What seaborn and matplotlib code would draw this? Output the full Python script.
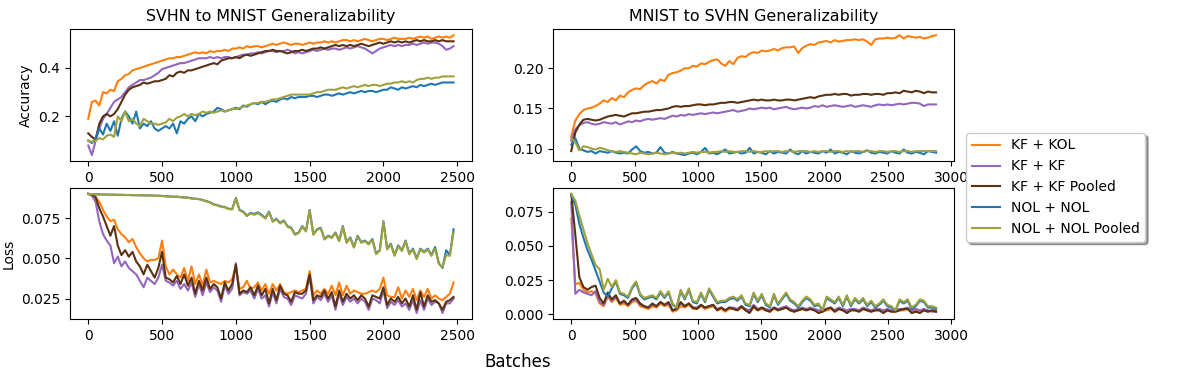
import numpy as np
import pandas as pd
import matplotlib
matplotlib.use("Agg")
import matplotlib.pyplot as plt
import seaborn as sns

MODELS = ["KF + KOL", "KF + KF", "KF + KF Pooled", "NOL + NOL", "NOL + NOL Pooled"]
COLORS = ["#ff7f0e", "#9467bd", "#5a3210", "#1f77b4", "#9fa23c"]

STEP_SVHN = 25   # batches between logged points, SVHN -> MNIST
STEP_MNIST = 32  # batches between logged points, MNIST -> SVHN

# --- SVHN to MNIST accuracy ---
acc_s2m_kf_kol = [
    0.19, 0.26, 0.265, 0.245, 0.30, 0.295, 0.31, 0.305, 0.345, 0.355,
    0.37, 0.375, 0.39, 0.395, 0.40, 0.405, 0.41, 0.415, 0.42, 0.425,
    0.43, 0.435, 0.44, 0.44, 0.445, 0.445, 0.45, 0.455, 0.46, 0.465,
    0.46, 0.465, 0.46, 0.47, 0.465, 0.47, 0.47, 0.475, 0.47, 0.48,
    0.48, 0.485, 0.48, 0.49, 0.485, 0.49, 0.49, 0.485, 0.49, 0.495,
    0.50, 0.495, 0.50, 0.505, 0.50, 0.495, 0.50, 0.50, 0.495, 0.50,
    0.505, 0.50, 0.505, 0.505, 0.51, 0.505, 0.51, 0.505, 0.51, 0.515,
    0.515, 0.51, 0.515, 0.51, 0.515, 0.52, 0.515, 0.51, 0.515, 0.52,
    0.52, 0.515, 0.52, 0.525, 0.52, 0.52, 0.52, 0.525, 0.52, 0.525,
    0.53, 0.525, 0.53, 0.52, 0.525, 0.53, 0.525, 0.53, 0.525, 0.535]
acc_s2m_kf_kf = [
    0.08, 0.04, 0.10, 0.15, 0.19, 0.21, 0.235, 0.26, 0.27, 0.28,
    0.30, 0.32, 0.33, 0.34, 0.35, 0.35, 0.355, 0.36, 0.37, 0.38,
    0.395, 0.40, 0.405, 0.41, 0.415, 0.42, 0.42, 0.425, 0.43, 0.435,
    0.44, 0.44, 0.44, 0.445, 0.44, 0.445, 0.44, 0.445, 0.445, 0.44,
    0.445, 0.45, 0.455, 0.455, 0.46, 0.46, 0.465, 0.46, 0.465, 0.47,
    0.47, 0.465, 0.47, 0.47, 0.475, 0.47, 0.46, 0.465, 0.46, 0.465,
    0.47, 0.475, 0.47, 0.475, 0.48, 0.475, 0.48, 0.48, 0.475, 0.48,
    0.485, 0.48, 0.485, 0.49, 0.485, 0.48, 0.47, 0.46, 0.47, 0.48,
    0.485, 0.49, 0.495, 0.49, 0.495, 0.49, 0.495, 0.495, 0.50, 0.495,
    0.50, 0.505, 0.50, 0.505, 0.505, 0.50, 0.49, 0.475, 0.48, 0.49]
acc_s2m_kf_kf_pooled = [
    0.13, 0.115, 0.105, 0.17, 0.20, 0.21, 0.20, 0.21, 0.23, 0.26,
    0.29, 0.31, 0.32, 0.325, 0.33, 0.34, 0.335, 0.34, 0.345, 0.345,
    0.35, 0.355, 0.37, 0.365, 0.38, 0.385, 0.38, 0.39, 0.39, 0.395,
    0.40, 0.405, 0.41, 0.415, 0.42, 0.415, 0.43, 0.435, 0.44, 0.44,
    0.445, 0.44, 0.45, 0.455, 0.45, 0.455, 0.46, 0.465, 0.47, 0.47,
    0.475, 0.47, 0.47, 0.465, 0.46, 0.465, 0.47, 0.47, 0.475, 0.47,
    0.475, 0.48, 0.48, 0.485, 0.48, 0.485, 0.49, 0.495, 0.49, 0.495,
    0.49, 0.495, 0.49, 0.495, 0.50, 0.495, 0.49, 0.495, 0.50, 0.505,
    0.50, 0.505, 0.51, 0.505, 0.51, 0.505, 0.51, 0.505, 0.51, 0.515,
    0.51, 0.515, 0.51, 0.51, 0.515, 0.51, 0.515, 0.51, 0.51, 0.51]
acc_s2m_nol_nol = [
    0.10, 0.09, 0.11, 0.15, 0.125, 0.17, 0.14, 0.18, 0.12, 0.19,
    0.22, 0.20, 0.17, 0.22, 0.15, 0.17, 0.16, 0.18, 0.15, 0.14,
    0.15, 0.16, 0.15, 0.17, 0.13, 0.18, 0.17, 0.19, 0.20, 0.18,
    0.21, 0.20, 0.21, 0.215, 0.22, 0.235, 0.23, 0.22, 0.225, 0.23,
    0.235, 0.23, 0.245, 0.24, 0.25, 0.255, 0.25, 0.26, 0.25, 0.26,
    0.265, 0.26, 0.27, 0.275, 0.27, 0.28, 0.275, 0.28, 0.28, 0.28,
    0.285, 0.285, 0.28, 0.285, 0.29, 0.29, 0.285, 0.29, 0.295, 0.29,
    0.295, 0.30, 0.295, 0.30, 0.305, 0.30, 0.305, 0.305, 0.30, 0.305,
    0.31, 0.31, 0.32, 0.315, 0.31, 0.32, 0.315, 0.32, 0.325, 0.32,
    0.33, 0.325, 0.33, 0.335, 0.33, 0.335, 0.34, 0.34, 0.34, 0.34]
acc_s2m_nol_nol_pooled = [
    0.10, 0.095, 0.10, 0.11, 0.105, 0.12, 0.125, 0.115, 0.20, 0.18,
    0.22, 0.18, 0.19, 0.17, 0.16, 0.19, 0.18, 0.17, 0.17, 0.165,
    0.17, 0.175, 0.19, 0.18, 0.195, 0.20, 0.21, 0.20, 0.21, 0.205,
    0.21, 0.22, 0.215, 0.22, 0.215, 0.22, 0.225, 0.22, 0.225, 0.23,
    0.23, 0.235, 0.24, 0.245, 0.25, 0.255, 0.255, 0.26, 0.26, 0.265,
    0.27, 0.27, 0.275, 0.28, 0.285, 0.29, 0.29, 0.29, 0.29, 0.29,
    0.29, 0.295, 0.30, 0.30, 0.305, 0.31, 0.31, 0.31, 0.315, 0.32,
    0.315, 0.32, 0.325, 0.32, 0.325, 0.33, 0.325, 0.33, 0.33, 0.325,
    0.33, 0.335, 0.335, 0.34, 0.34, 0.345, 0.34, 0.345, 0.34, 0.35,
    0.355, 0.355, 0.36, 0.355, 0.36, 0.36, 0.365, 0.365, 0.365, 0.365]

# --- SVHN to MNIST loss ---
loss_s2m_kf_kol = [
    0.090, 0.089, 0.088, 0.085, 0.080, 0.076, 0.073, 0.074, 0.068, 0.065,
    0.063, 0.060, 0.062, 0.057, 0.053, 0.050, 0.048, 0.049, 0.049, 0.050,
    0.061, 0.045, 0.040, 0.043, 0.040, 0.038, 0.044, 0.036, 0.045, 0.034,
    0.040, 0.033, 0.043, 0.035, 0.036, 0.035, 0.034, 0.036, 0.035, 0.037,
    0.045, 0.031, 0.032, 0.036, 0.031, 0.032, 0.035, 0.030, 0.034, 0.028,
    0.034, 0.030, 0.034, 0.029, 0.028, 0.029, 0.030, 0.029, 0.030, 0.031,
    0.042, 0.027, 0.030, 0.028, 0.031, 0.028, 0.033, 0.027, 0.035, 0.027,
    0.033, 0.028, 0.030, 0.029, 0.028, 0.028, 0.029, 0.030, 0.029, 0.031,
    0.038, 0.027, 0.026, 0.026, 0.032, 0.025, 0.030, 0.026, 0.031, 0.024,
    0.030, 0.026, 0.031, 0.025, 0.027, 0.025, 0.024, 0.026, 0.028, 0.035]
loss_s2m_kf_kf = [
    0.090, 0.089, 0.085, 0.073, 0.065, 0.061, 0.058, 0.047, 0.051, 0.045,
    0.048, 0.044, 0.042, 0.040, 0.036, 0.032, 0.038, 0.036, 0.034, 0.038,
    0.046, 0.036, 0.035, 0.033, 0.036, 0.031, 0.034, 0.030, 0.035, 0.026,
    0.034, 0.027, 0.035, 0.029, 0.032, 0.030, 0.023, 0.033, 0.028, 0.031,
    0.047, 0.027, 0.029, 0.028, 0.030, 0.025, 0.031, 0.025, 0.027, 0.020,
    0.029, 0.022, 0.031, 0.026, 0.025, 0.021, 0.027, 0.026, 0.025, 0.028,
    0.039, 0.022, 0.026, 0.024, 0.028, 0.023, 0.027, 0.018, 0.028, 0.021,
    0.026, 0.023, 0.025, 0.022, 0.025, 0.023, 0.018, 0.025, 0.024, 0.022,
    0.030, 0.019, 0.023, 0.021, 0.024, 0.020, 0.022, 0.018, 0.024, 0.016,
    0.024, 0.018, 0.025, 0.021, 0.023, 0.022, 0.016, 0.022, 0.022, 0.025]
loss_s2m_kf_kf_pooled = [
    0.090, 0.0895, 0.088, 0.081, 0.076, 0.070, 0.064, 0.070, 0.058, 0.052,
    0.055, 0.051, 0.054, 0.048, 0.045, 0.040, 0.046, 0.042, 0.038, 0.044,
    0.054, 0.038, 0.037, 0.035, 0.039, 0.034, 0.040, 0.033, 0.038, 0.028,
    0.036, 0.030, 0.038, 0.031, 0.034, 0.032, 0.025, 0.035, 0.030, 0.034,
    0.046, 0.028, 0.030, 0.029, 0.032, 0.027, 0.033, 0.027, 0.031, 0.022,
    0.031, 0.024, 0.033, 0.028, 0.027, 0.023, 0.029, 0.028, 0.028, 0.030,
    0.040, 0.024, 0.027, 0.026, 0.030, 0.025, 0.029, 0.020, 0.030, 0.023,
    0.028, 0.025, 0.027, 0.024, 0.027, 0.025, 0.020, 0.027, 0.026, 0.025,
    0.032, 0.021, 0.025, 0.023, 0.026, 0.022, 0.025, 0.020, 0.027, 0.018,
    0.029, 0.020, 0.027, 0.023, 0.024, 0.022, 0.018, 0.023, 0.024, 0.026]
loss_s2m_nol_nol = [
    0.0900, 0.0898, 0.0897, 0.0897, 0.0896, 0.0896, 0.0895, 0.0895, 0.0894, 0.0894,
    0.0893, 0.0893, 0.0892, 0.0892, 0.0891, 0.0891, 0.0890, 0.0890, 0.0889, 0.0888,
    0.0887, 0.0885, 0.0884, 0.0882, 0.0883, 0.0880, 0.0878, 0.0877, 0.0872, 0.0870,
    0.0868, 0.0862, 0.0855, 0.0848, 0.0835, 0.0830, 0.0822, 0.0818, 0.0808, 0.0805,
    0.0875, 0.0800, 0.0790, 0.0765, 0.0782, 0.0775, 0.0785, 0.0770, 0.0750, 0.0790,
    0.0730, 0.0745, 0.0720, 0.0735, 0.0700, 0.0690, 0.0650, 0.0660, 0.0700, 0.0670,
    0.0800, 0.0650, 0.0680, 0.0690, 0.0620, 0.0640, 0.0630, 0.0660, 0.0610, 0.0700,
    0.0600, 0.0630, 0.0570, 0.0640, 0.0600, 0.0610, 0.0590, 0.0620, 0.0530, 0.0550,
    0.0730, 0.0560, 0.0590, 0.0520, 0.0580, 0.0550, 0.0610, 0.0530, 0.0560, 0.0500,
    0.0560, 0.0540, 0.0560, 0.0520, 0.0570, 0.0470, 0.0440, 0.0550, 0.0520, 0.0680]
loss_s2m_nol_nol_pooled = [
    0.0900, 0.0898, 0.0897, 0.0897, 0.0896, 0.0896, 0.0895, 0.0895, 0.0894, 0.0894,
    0.0893, 0.0893, 0.0892, 0.0892, 0.0891, 0.0891, 0.0890, 0.0890, 0.0889, 0.0888,
    0.0887, 0.0885, 0.0884, 0.0882, 0.0882, 0.0879, 0.0877, 0.0876, 0.0871, 0.0869,
    0.0867, 0.0861, 0.0853, 0.0846, 0.0833, 0.0828, 0.0820, 0.0816, 0.0806, 0.0803,
    0.0872, 0.0797, 0.0787, 0.0762, 0.0779, 0.0770, 0.0780, 0.0765, 0.0746, 0.0786,
    0.0727, 0.0741, 0.0716, 0.0731, 0.0696, 0.0686, 0.0646, 0.0656, 0.0696, 0.0666,
    0.0797, 0.0646, 0.0676, 0.0686, 0.0616, 0.0636, 0.0626, 0.0656, 0.0606, 0.0696,
    0.0596, 0.0626, 0.0566, 0.0636, 0.0596, 0.0606, 0.0586, 0.0616, 0.0526, 0.0546,
    0.0726, 0.0555, 0.0585, 0.0515, 0.0575, 0.0545, 0.0605, 0.0525, 0.0555, 0.0495,
    0.0555, 0.0535, 0.0555, 0.0515, 0.0560, 0.0465, 0.0445, 0.0520, 0.0515, 0.0660]

# --- MNIST to SVHN accuracy ---
acc_m2s_kf_kol = [
    0.115, 0.135, 0.143, 0.148, 0.150, 0.151, 0.153, 0.156, 0.160, 0.158,
    0.163, 0.160, 0.166, 0.164, 0.170, 0.173, 0.175, 0.174, 0.179, 0.182,
    0.184, 0.181, 0.186, 0.184, 0.192, 0.194, 0.195, 0.197, 0.200, 0.200,
    0.203, 0.202, 0.206, 0.205, 0.208, 0.210, 0.211, 0.206, 0.203, 0.209,
    0.205, 0.213, 0.215, 0.214, 0.218, 0.220, 0.219, 0.222, 0.221, 0.222,
    0.224, 0.222, 0.225, 0.226, 0.226, 0.227, 0.219, 0.225, 0.228, 0.230,
    0.229, 0.232, 0.233, 0.234, 0.232, 0.235, 0.233, 0.234, 0.235, 0.235,
    0.236, 0.235, 0.236, 0.233, 0.229, 0.236, 0.237, 0.237, 0.238, 0.237,
    0.238, 0.241, 0.237, 0.240, 0.239, 0.238, 0.239, 0.237, 0.238, 0.240, 0.241]
acc_m2s_kf_kf = [
    0.110, 0.124, 0.129, 0.132, 0.133, 0.131, 0.130, 0.131, 0.133, 0.132,
    0.131, 0.133, 0.130, 0.132, 0.134, 0.133, 0.135, 0.134, 0.136, 0.137,
    0.136, 0.137, 0.138, 0.137, 0.139, 0.141, 0.140, 0.142, 0.141, 0.143,
    0.142, 0.143, 0.144, 0.143, 0.144, 0.145, 0.144, 0.145, 0.146, 0.147,
    0.148, 0.146, 0.147, 0.148, 0.150, 0.149, 0.150, 0.151, 0.150, 0.151,
    0.149, 0.150, 0.151, 0.152, 0.150, 0.149, 0.150, 0.151, 0.150, 0.151,
    0.153, 0.152, 0.154, 0.152, 0.153, 0.154, 0.153, 0.152, 0.153, 0.154,
    0.152, 0.153, 0.154, 0.153, 0.152, 0.154, 0.155, 0.154, 0.155, 0.154,
    0.155, 0.156, 0.155, 0.156, 0.157, 0.157, 0.156, 0.153, 0.155, 0.155, 0.155]
acc_m2s_kf_kf_pooled = [
    0.097, 0.120, 0.130, 0.136, 0.137, 0.136, 0.135, 0.136, 0.138, 0.140,
    0.141, 0.142, 0.141, 0.140, 0.142, 0.144, 0.144, 0.145, 0.146, 0.146,
    0.147, 0.148, 0.148, 0.149, 0.150, 0.152, 0.153, 0.152, 0.153, 0.153,
    0.154, 0.155, 0.155, 0.154, 0.155, 0.155, 0.156, 0.157, 0.157, 0.158,
    0.158, 0.157, 0.158, 0.159, 0.160, 0.161, 0.160, 0.161, 0.160, 0.160,
    0.161, 0.160, 0.160, 0.161, 0.161, 0.160, 0.161, 0.162, 0.163, 0.164,
    0.163, 0.165, 0.166, 0.167, 0.167, 0.168, 0.167, 0.168, 0.168, 0.166,
    0.167, 0.167, 0.168, 0.168, 0.167, 0.168, 0.168, 0.167, 0.169, 0.169,
    0.170, 0.169, 0.172, 0.171, 0.170, 0.172, 0.171, 0.169, 0.171, 0.170, 0.170]
acc_m2s_nol_nol = [
    0.105, 0.113, 0.100, 0.098, 0.096, 0.097, 0.094, 0.097, 0.096, 0.095,
    0.097, 0.095, 0.094, 0.095, 0.094, 0.099, 0.103, 0.097, 0.095, 0.096,
    0.094, 0.095, 0.102, 0.095, 0.094, 0.096, 0.094, 0.093, 0.092, 0.094,
    0.095, 0.093, 0.096, 0.101, 0.094, 0.095, 0.093, 0.096, 0.099, 0.094,
    0.095, 0.096, 0.094, 0.095, 0.101, 0.094, 0.096, 0.095, 0.093, 0.097,
    0.094, 0.096, 0.095, 0.094, 0.099, 0.095, 0.093, 0.097, 0.094, 0.096,
    0.095, 0.094, 0.097, 0.095, 0.099, 0.094, 0.096, 0.095, 0.093, 0.097,
    0.095, 0.094, 0.096, 0.098, 0.095, 0.094, 0.096, 0.095, 0.094, 0.097,
    0.095, 0.094, 0.099, 0.095, 0.094, 0.096, 0.095, 0.093, 0.097, 0.096, 0.095]
acc_m2s_nol_nol_pooled = [
    0.113, 0.108, 0.098, 0.103, 0.102, 0.100, 0.099, 0.101, 0.100, 0.098,
    0.097, 0.096, 0.097, 0.096, 0.095, 0.094, 0.093, 0.095, 0.094, 0.093,
    0.094, 0.095, 0.094, 0.093, 0.094, 0.095, 0.094, 0.095, 0.094, 0.095,
    0.096, 0.095, 0.096, 0.096, 0.095, 0.096, 0.096, 0.097, 0.096, 0.097,
    0.096, 0.096, 0.097, 0.097, 0.096, 0.097, 0.096, 0.096, 0.097, 0.096,
    0.097, 0.097, 0.096, 0.097, 0.097, 0.096, 0.097, 0.097, 0.097, 0.096,
    0.097, 0.096, 0.097, 0.097, 0.096, 0.097, 0.097, 0.096, 0.097, 0.096,
    0.097, 0.097, 0.096, 0.097, 0.097, 0.096, 0.097, 0.097, 0.096, 0.097,
    0.097, 0.096, 0.097, 0.097, 0.096, 0.097, 0.097, 0.097, 0.097, 0.097, 0.097]

# --- MNIST to SVHN loss ---
loss_m2s_kf_kol = [
    0.070, 0.022, 0.023, 0.018, 0.016, 0.017, 0.015, 0.008, 0.006, 0.013,
    0.009, 0.012, 0.007, 0.008, 0.006, 0.009, 0.010, 0.006, 0.005, 0.004,
    0.006, 0.005, 0.008, 0.006, 0.007, 0.002, 0.003, 0.006, 0.005, 0.007,
    0.004, 0.004, 0.006, 0.004, 0.005, 0.006, 0.003, 0.004, 0.002, 0.004,
    0.004, 0.003, 0.005, 0.003, 0.002, 0.005, 0.003, 0.004, 0.003, 0.002,
    0.004, 0.003, 0.004, 0.005, 0.003, 0.002, 0.003, 0.004, 0.003, 0.004,
    0.003, 0.002, 0.002, 0.003, 0.004, 0.002, 0.004, 0.003, 0.002, 0.003,
    0.003, 0.002, 0.004, 0.003, 0.002, 0.003, 0.003, 0.002, 0.003, 0.002,
    0.002, 0.003, 0.003, 0.004, 0.002, 0.003, 0.002, 0.003, 0.002, 0.003, 0.003]
loss_m2s_kf_kf = [
    0.082, 0.015, 0.018, 0.016, 0.015, 0.014, 0.017, 0.009, 0.007, 0.014,
    0.010, 0.013, 0.008, 0.009, 0.007, 0.010, 0.011, 0.007, 0.006, 0.005,
    0.007, 0.006, 0.009, 0.007, 0.008, 0.003, 0.004, 0.008, 0.006, 0.008,
    0.005, 0.005, 0.007, 0.005, 0.006, 0.007, 0.004, 0.005, 0.003, 0.005,
    0.005, 0.004, 0.006, 0.004, 0.003, 0.007, 0.004, 0.005, 0.004, 0.003,
    0.005, 0.004, 0.005, 0.006, 0.004, 0.003, 0.004, 0.005, 0.004, 0.005,
    0.004, 0.003, 0.003, 0.004, 0.005, 0.003, 0.005, 0.004, 0.003, 0.004,
    0.004, 0.003, 0.005, 0.004, 0.003, 0.004, 0.004, 0.003, 0.004, 0.003,
    0.003, 0.004, 0.004, 0.005, 0.003, 0.004, 0.003, 0.004, 0.003, 0.002, 0.002]
loss_m2s_kf_kf_pooled = [
    0.088, 0.058, 0.027, 0.020, 0.018, 0.020, 0.021, 0.012, 0.008, 0.016,
    0.011, 0.014, 0.008, 0.010, 0.007, 0.011, 0.012, 0.008, 0.006, 0.005,
    0.008, 0.006, 0.009, 0.007, 0.009, 0.003, 0.004, 0.009, 0.006, 0.008,
    0.005, 0.004, 0.007, 0.005, 0.006, 0.007, 0.003, 0.005, 0.003, 0.005,
    0.004, 0.003, 0.006, 0.003, 0.001, 0.006, 0.003, 0.005, 0.003, 0.002,
    0.005, 0.003, 0.004, 0.005, 0.003, 0.002, 0.003, 0.004, 0.003, 0.004,
    0.003, 0.001, 0.002, 0.004, 0.005, 0.002, 0.004, 0.003, 0.001, 0.003,
    0.003, 0.002, 0.004, 0.003, 0.002, 0.003, 0.003, 0.001, 0.003, 0.002,
    0.002, 0.003, 0.004, 0.004, 0.001, 0.002, 0.001, 0.003, 0.002, 0.003, 0.002]
loss_m2s_nol_nol = [
    0.087, 0.080, 0.066, 0.056, 0.047, 0.040, 0.032, 0.024, 0.016, 0.013,
    0.019, 0.024, 0.015, 0.014, 0.012, 0.019, 0.023, 0.014, 0.011, 0.012,
    0.013, 0.011, 0.016, 0.012, 0.016, 0.007, 0.005, 0.017, 0.011, 0.018,
    0.009, 0.008, 0.015, 0.009, 0.018, 0.013, 0.008, 0.009, 0.009, 0.011,
    0.012, 0.010, 0.013, 0.007, 0.006, 0.015, 0.009, 0.014, 0.007, 0.005,
    0.014, 0.007, 0.011, 0.015, 0.010, 0.008, 0.005, 0.009, 0.012, 0.010,
    0.006, 0.007, 0.003, 0.012, 0.010, 0.008, 0.012, 0.006, 0.013, 0.006,
    0.011, 0.008, 0.011, 0.006, 0.009, 0.005, 0.007, 0.010, 0.006, 0.005,
    0.003, 0.010, 0.008, 0.010, 0.004, 0.006, 0.010, 0.009, 0.005, 0.005, 0.004]
loss_m2s_nol_nol_pooled = [
    0.088, 0.083, 0.072, 0.062, 0.052, 0.044, 0.036, 0.033, 0.018, 0.026,
    0.020, 0.025, 0.016, 0.015, 0.013, 0.020, 0.024, 0.015, 0.012, 0.013,
    0.014, 0.012, 0.017, 0.013, 0.017, 0.008, 0.005, 0.018, 0.012, 0.019,
    0.010, 0.009, 0.016, 0.010, 0.019, 0.014, 0.009, 0.010, 0.010, 0.012,
    0.013, 0.011, 0.014, 0.008, 0.007, 0.016, 0.010, 0.015, 0.008, 0.006,
    0.015, 0.008, 0.012, 0.016, 0.011, 0.009, 0.006, 0.010, 0.013, 0.011,
    0.007, 0.008, 0.003, 0.013, 0.011, 0.009, 0.013, 0.007, 0.014, 0.007,
    0.012, 0.009, 0.012, 0.007, 0.010, 0.006, 0.008, 0.011, 0.007, 0.006,
    0.003, 0.011, 0.009, 0.011, 0.005, 0.007, 0.011, 0.010, 0.006, 0.006, 0.005]


def long_frame(series, step):
    rows = []
    for model, vals in zip(MODELS, series):
        for i, v in enumerate(vals):
            rows.append((i * step, v, model))
    return pd.DataFrame(rows, columns=["Batches", "value", "Model"])


panels = [
    (long_frame([acc_s2m_kf_kol, acc_s2m_kf_kf, acc_s2m_kf_kf_pooled,
                 acc_s2m_nol_nol, acc_s2m_nol_nol_pooled], STEP_SVHN),
     "SVHN to MNIST Generalizability", "Accuracy"),
    (long_frame([acc_m2s_kf_kol, acc_m2s_kf_kf, acc_m2s_kf_kf_pooled,
                 acc_m2s_nol_nol, acc_m2s_nol_nol_pooled], STEP_MNIST),
     "MNIST to SVHN Generalizability", ""),
    (long_frame([loss_s2m_kf_kol, loss_s2m_kf_kf, loss_s2m_kf_kf_pooled,
                 loss_s2m_nol_nol, loss_s2m_nol_nol_pooled], STEP_SVHN),
     "", "Loss"),
    (long_frame([loss_m2s_kf_kol, loss_m2s_kf_kf, loss_m2s_kf_kf_pooled,
                 loss_m2s_nol_nol, loss_m2s_nol_nol_pooled], STEP_MNIST),
     "", ""),
]

fig = plt.figure(figsize=(11.96, 3.8), dpi=100)
rects = [
    [0.0585, 0.576, 0.336, 0.347],
    [0.4624, 0.576, 0.3355, 0.347],
    [0.0585, 0.1605, 0.336, 0.345],
    [0.4624, 0.1605, 0.3355, 0.345],
]
palette = dict(zip(MODELS, COLORS))

for rect, (df, title, ylab) in zip(rects, panels):
    ax = fig.add_axes(rect)
    sns.lineplot(data=df, x="Batches", y="value", hue="Model", hue_order=MODELS,
                 palette=palette, linewidth=1.5, legend=False, ax=ax)
    ax.set_title(title, fontsize=11.4)
    ax.set_ylabel(ylab)
    ax.set_xlabel("")
    ax.margins(x=0.05, y=0.05)

fig.axes[0].set_yticks([0.2, 0.4])
fig.axes[1].set_yticks([0.10, 0.15, 0.20])
fig.axes[2].set_yticks([0.025, 0.050, 0.075])
fig.axes[3].set_yticks([0.000, 0.025, 0.050, 0.075])

handles = [plt.Line2D([], [], color=c, linewidth=1.5) for c in COLORS]
fig.legend(handles, MODELS, loc="center left", bbox_to_anchor=(0.808, 0.507),
           shadow=True, fontsize=10, borderaxespad=0.0)

fig.text(0.433, 0.047, "Batches", ha="center", va="center", fontsize=12)

fig.savefig("out.png", dpi=100)
